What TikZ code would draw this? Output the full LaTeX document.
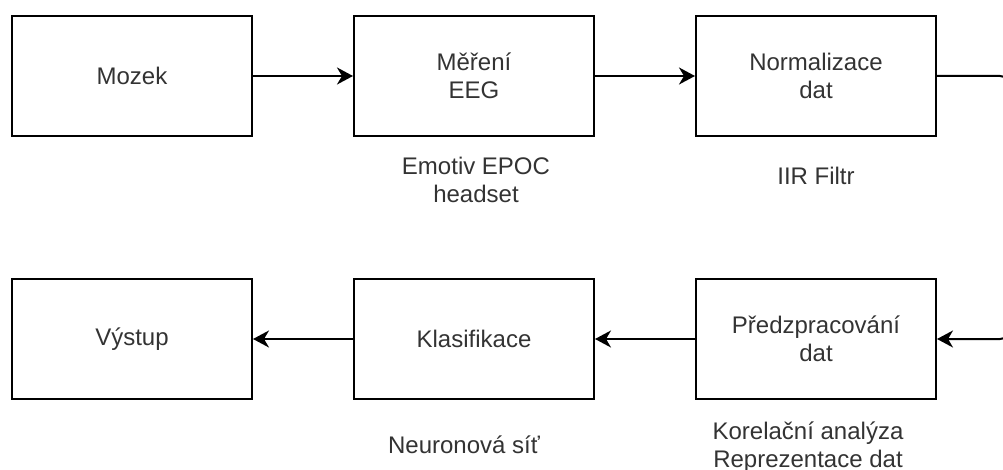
\documentclass[tikz,border=0pt]{standalone}
\usepackage{fontspec}
\setmainfont{Liberation Sans}
\usetikzlibrary{positioning,arrows.meta}

\begin{document}
\begin{tikzpicture}[x=1pt, y=1pt, node distance={100pt},
    blok/.style={draw, line width=2pt, minimum width=240pt, minimum height=120pt, align=center, text=black!80, font=\fontsize{24}{28}\selectfont},
    popis/.style={align=center, inner sep=0pt, text=black!80, font=\fontsize{24}{28}\selectfont},
    sipka/.style={line width=2pt, -{Stealth[length=16pt, width=17pt, inset=5pt]}}]
    \useasboundingbox (0,0) rectangle (1003,-470);
    \clip (0,0) rectangle (1003,-470);
    % horni rada
    \node[blok] (mozek) at (132,-76) {Mozek};
    \node[blok, right=of mozek] (mereni) {Měření\\EEG};
    \node[blok, right=of mereni] (norm) {Normalizace\\dat};
    % dolni rada
    \node[blok, below=141pt of mozek] (vystup) {Výstup};
    \node[blok, right=of vystup] (klas) {Klasifikace};
    \node[blok, right=of klas] (pred) {Předzpracování\\dat};
    % popisky
    \node[popis, below=20pt of mereni, xshift=2pt] (p1) {Emotiv EPOC\\headset};
    \node[popis, below=30pt of norm] (p2) {IIR Filtr};
    \node[popis, below=36pt of klas, xshift=-10pt] (p3) {Neuronová síť};
    \node[popis, below=22pt of pred, xshift=-8pt] (p4) {Korelační analýza\\Reprezentace dat};
    % spoje
    \coordinate (vpravo) at (1010,-200);
    \draw[sipka] (mozek) -- (mereni);
    \draw[sipka] (mereni) -- (norm);
    \draw[sipka, rounded corners=10pt] (norm.east) -| (vpravo) |- (pred.east);
    \draw[sipka] (pred) -- (klas);
    \draw[sipka] (klas) -- (vystup);
\end{tikzpicture}
\end{document}
